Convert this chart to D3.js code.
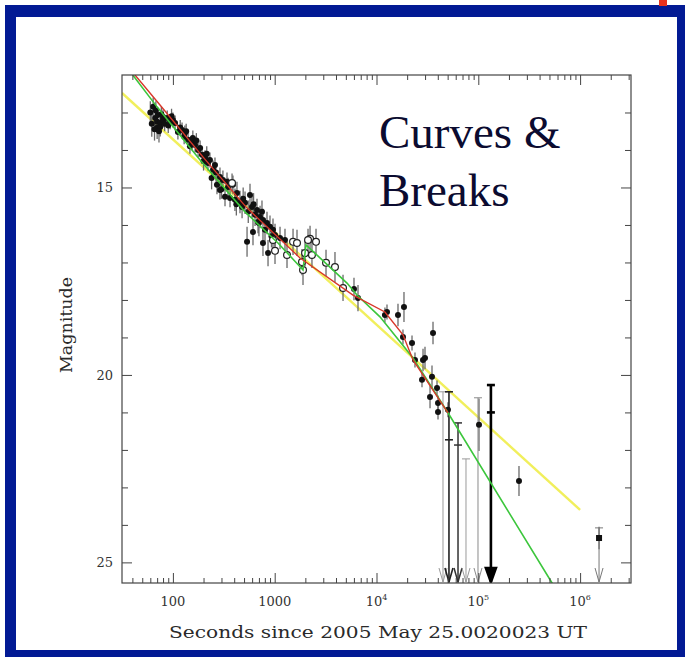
<!DOCTYPE html>
<html>
<head>
<meta charset="utf-8">
<script src="https://cdn.jsdelivr.net/npm/d3@7"></script>
<style>
  html, body { margin: 0; padding: 0; background: #fff; }
  svg { display: block; }
</style>
</head>
<body>
<svg id="chart" width="688" height="657"></svg>
<script>
// afterglow detections: [seconds, magnitude, error]
const detections = [
  [64,12.85,0.25],[67,13.15,0.3],[70,13.25,0.25],[71,13.07,0.2],[75,13.28,0.25],[70,13.41,0.3],
  [80,13.12,0.2],[80,13.2,0.2],[88,13.15,0.2],[94,13.25,0.2],[100,13.2,0.2],[105,13.28,0.2],
  [75,13.39,0.25],[112,13.52,0.2],[123,13.47,0.2],[129,13.65,0.2],[141,13.73,0.2],[154,13.81,0.2],
  [165,13.87,0.2],[177,14.0,0.2],[193,14.13,0.2],[207,14.21,0.2],[221,14.35,0.2],[248,14.53,0.25],
  [271,14.93,0.25],[290,14.72,0.25],[310,14.8,0.25],[340,14.85,0.25],[348,14.99,0.25],[389,14.93,0.25],
  [325,15.25,0.25],[364,15.28,0.25],[426,15.15,0.3],[456,15.39,0.3],[511,15.41,0.3],[572,15.2,0.3],
  [598,15.52,0.3],[670,15.6,0.3],[718,15.79,0.3],[767,15.87,0.3],[840,15.95,0.3],[899,16.05,0.3],
  [962,16.13,0.3],[535,16.45,0.4],[612,16.19,0.35],[767,16.48,0.35],[860,16.75,0.35],[478,15.52,0.3],
  [750,15.65,0.3],[803,16.13,0.3],[1128,16.35,0.3],[1262,16.4,0.3],[6010,17.71,0.3],[6580,17.95,0.35],
  [12100,18.4,0.2],[12680,18.32,0.2],[16260,18.4,0.3],[18620,18.19,0.4],[18200,18.99,0.2],[22330,19.15,0.2],
  [35900,18.88,0.3],[23880,19.6,0.2],[28640,19.6,0.3],[29950,19.55,0.3],[27990,20.13,0.2],[35090,20.05,0.3],
  [33560,20.59,0.3],[39300,20.35,0.2],[40200,20.75,0.2],[40200,20.99,0.2],[50350,20.93,0.2],[101600,21.33,0.7],
  [251000,22.83,0.4],[131,13.55,0.2],[157,13.68,0.2],[185,13.95,0.2],[231,14.27,0.2],[259,14.4,0.2],
  [290,15.07,0.25],[407,15.33,0.3],[641,15.73,0.3],[686,15.92,0.3],[1007,16.27,0.3],
  [60,13.0,0.3],[62,13.3,0.35],[66,13.45,0.3],[68,12.95,0.25],[73,13.5,0.3],[77,13.05,0.2],
  [83,13.3,0.2],[90,13.35,0.2],[97,13.1,0.2],[118,13.4,0.2],[135,13.5,0.2],[147,13.9,0.2],
  [170,13.75,0.2],[200,14.3,0.25],[215,14.1,0.2],[240,14.75,0.3],[265,14.6,0.25],[300,15.05,0.25],
  [420,15.45,0.3],[490,15.3,0.3],[550,15.65,0.3],[620,15.45,0.3],[700,15.95,0.35],[930,16.3,0.3]
];
// other-filter points drawn as open circles
const openPoints = [
  [381,14.88,0.25],[962,16.4,0.3],[1007,16.69,0.35],[1321,16.8,0.35],[1514,16.45,0.35],[1656,16.48,0.35],
  [1854,16.99,0.35],[1897,17.2,0.4],[2224,16.37,0.35],[2546,16.45,0.35],[2323,16.8,0.35],[3192,17.01,0.35],
  [3910,17.12,0.4],[4690,17.68,0.35],[1986,16.75,0.35],[2125,16.4,0.3]
];
const lateDetection = [[1535000,24.35,0.3]];
// upper limits: [seconds, top of bar, lower cap or null]
const upperLimits = [
  [45000,20.45,null],[51500,20.45,21.73],[63200,21.28,21.87],[75700,22.24,null],
  [99300,20.61,null],[133000,20.27,21.0],[1535000,24.08,null]
];
// model curves
const yellowT = [31.6, 1e6];
const yellowM = [12.48, 23.6];
const redT = [38.7, 74.7, 198, 535, 1774, 5875, 12100, 18200, 22850, 50350];
const redM = [11.87, 12.8, 14.19, 15.55, 16.88, 17.87, 18.32, 18.93, 19.6, 21.01];
const greenT = [37.1, 69.8, 185, 511, 1077, 1897, 2030, 5130, 6430, 10820, 22850, 50350, 530000, 700000];
const greenM = [11.87, 12.85, 14.27, 15.65, 16.48, 17.2, 16.53, 17.55, 17.87, 18.45, 19.55, 21.01, 25.55, 26.2];
const majorX = [100, 1000, 1e4, 1e5, 1e6];
const majorY = [15, 20, 25];

const svg = d3.select('#chart');

// slide frame
svg.append('rect').attr('x', 5).attr('y', 5).attr('width', 680).attr('height', 652).attr('fill', '#021a94');
svg.append('rect').attr('x', 16).attr('y', 17).attr('width', 661).attr('height', 633).attr('fill', '#fff');
svg.append('rect').attr('x', 659).attr('y', 0).attr('width', 8).attr('height', 6).attr('fill', '#e8321e');

const pLeft = 122, pRight = 631, pTop = 75, pBottom = 583;
const x = d3.scaleLog().domain([10 ** 1.5, 10 ** 6.5]).range([pLeft, pRight]);
const y = d3.scaleLinear().domain([12, 25.55]).range([pTop, pBottom]);

svg.append('clipPath').attr('id', 'plot-clip')
  .append('rect').attr('x', pLeft).attr('y', pTop).attr('width', pRight - pLeft).attr('height', pBottom - pTop);

const plot = svg.append('g').attr('clip-path', 'url(#plot-clip)');

const line = d3.line().x(d => x(d[0])).y(d => y(d[1]));
const zip = (ts, ms) => ts.map((t, i) => [t, ms[i]]);

// yellow single power law sits under the data
plot.append('path').attr('d', line(zip(yellowT, yellowM)))
  .attr('fill', 'none').attr('stroke', '#f1ef5c').attr('stroke-width', 2.4);

// error bars
const allBars = detections.concat(openPoints, lateDetection);
plot.selectAll('line.err').data(allBars).join('line')
  .attr('class', 'err')
  .attr('x1', d => x(d[0])).attr('x2', d => x(d[0]))
  .attr('y1', d => y(d[1] - d[2])).attr('y2', d => y(d[1] + d[2]))
  .attr('stroke', '#6a6a6a').attr('stroke-width', 1.3);

// upper limits
const limitStroke = ['#9a9a9a', '#222', '#333', '#9a9a9a', '#8a8a8a', '#000', '#777'];
const limitWidth = [1, 1.6, 1.5, 1, 1, 2.6, 1];
upperLimits.forEach((d, i) => {
  const cx = x(d[0]);
  const g = plot.append('g').attr('stroke', limitStroke[i]).attr('stroke-width', limitWidth[i]).attr('fill', 'none');
  g.append('line').attr('x1', cx).attr('x2', cx).attr('y1', y(d[1])).attr('y2', pBottom - 1);
  g.append('line').attr('x1', cx - 4).attr('x2', cx + 4).attr('y1', y(d[1])).attr('y2', y(d[1]));
  if (d[2] != null) {
    g.append('line').attr('x1', cx - 4).attr('x2', cx + 4).attr('y1', y(d[2])).attr('y2', y(d[2]));
  }
  const head = g.append('path').attr('d', `M${cx - 4},${pBottom - 15}L${cx},${pBottom - 1}L${cx + 4},${pBottom - 15}`);
  if (limitWidth[i] > 2) head.attr('fill', limitStroke[i]).attr('d', `M${cx - 5},${pBottom - 15}L${cx},${pBottom - 1}L${cx + 5},${pBottom - 15}Z`);
});

// points
plot.selectAll('circle.det').data(detections).join('circle')
  .attr('class', 'det')
  .attr('cx', d => x(d[0])).attr('cy', d => y(d[1])).attr('r', 3)
  .attr('fill', '#111');
plot.selectAll('circle.open').data(openPoints).join('circle')
  .attr('class', 'open')
  .attr('cx', d => x(d[0])).attr('cy', d => y(d[1])).attr('r', 3.4)
  .attr('fill', '#fff').attr('stroke', '#222').attr('stroke-width', 1.2);
plot.selectAll('rect.late').data(lateDetection).join('rect')
  .attr('class', 'late')
  .attr('x', d => x(d[0]) - 3).attr('y', d => y(d[1]) - 3).attr('width', 6).attr('height', 6)
  .attr('fill', '#111');

// broken power-law fits
plot.append('path').attr('d', line(zip(greenT, greenM)))
  .attr('fill', 'none').attr('stroke', '#3cc63c').attr('stroke-width', 1.6);
plot.append('path').attr('d', line(zip(redT, redM)))
  .attr('fill', 'none').attr('stroke', '#d8372a').attr('stroke-width', 1.4);

// axes, ticks pointing inward
const axisColor = '#444';
const minorX = x.ticks().filter(t => !majorX.includes(t));
const minorY = d3.range(13, 26).filter(m => !majorY.includes(m));
function strip(g) {
  g.select('.domain').remove();
  g.selectAll('.tick line').attr('stroke', axisColor);
}
svg.append('g').attr('transform', `translate(0,${pBottom})`)
  .call(d3.axisBottom(x).tickValues(minorX).tickSize(-5).tickFormat('')).call(strip);
svg.append('g').attr('transform', `translate(0,${pBottom})`)
  .call(d3.axisBottom(x).tickValues(majorX).tickSize(-10).tickFormat('')).call(strip);
svg.append('g').attr('transform', `translate(0,${pTop})`)
  .call(d3.axisTop(x).tickValues(minorX).tickSize(-5).tickFormat('')).call(strip);
svg.append('g').attr('transform', `translate(0,${pTop})`)
  .call(d3.axisTop(x).tickValues(majorX).tickSize(-10).tickFormat('')).call(strip);
svg.append('g').attr('transform', `translate(${pLeft},0)`)
  .call(d3.axisLeft(y).tickValues(minorY).tickSize(-6).tickFormat('')).call(strip);
svg.append('g').attr('transform', `translate(${pLeft},0)`)
  .call(d3.axisLeft(y).tickValues(majorY).tickSize(-10).tickPadding(9).tickFormat(d3.format('d')))
  .call(strip)
  .call(g => g.selectAll('text').attr('font-family', 'DejaVu Serif').attr('font-size', 13).attr('fill', '#333'));
svg.append('g').attr('transform', `translate(${pRight},0)`)
  .call(d3.axisRight(y).tickValues(minorY).tickSize(-6).tickFormat('')).call(strip);
svg.append('g').attr('transform', `translate(${pRight},0)`)
  .call(d3.axisRight(y).tickValues(majorY).tickSize(-10).tickFormat('')).call(strip);

svg.append('rect').attr('x', pLeft).attr('y', pTop).attr('width', pRight - pLeft).attr('height', pBottom - pTop)
  .attr('fill', 'none').attr('stroke', axisColor).attr('stroke-width', 1.2);

// x tick labels: plain for 100/1000, powers of ten beyond
const xl = svg.append('g').attr('font-family', 'DejaVu Serif').attr('fill', '#333').attr('text-anchor', 'middle');
majorX.forEach(t => {
  const p = Math.round(Math.log10(t));
  const txt = xl.append('text').attr('x', x(t)).attr('y', 606).attr('font-size', 13);
  if (p < 4) {
    txt.text(String(t));
  } else {
    txt.append('tspan').text('10');
    txt.append('tspan').attr('font-size', 8).attr('dy', -6).text(String(p));
  }
});

svg.append('text').attr('x', 378).attr('y', 638).attr('text-anchor', 'middle')
  .attr('font-family', 'DejaVu Serif').attr('font-size', 17).attr('fill', '#2a2a2a')
  .attr('textLength', 418).attr('lengthAdjust', 'spacingAndGlyphs')
  .text('Seconds since 2005 May 25.0020023 UT');

svg.append('text').attr('transform', 'translate(72,325) rotate(-90)').attr('text-anchor', 'middle')
  .attr('font-family', 'DejaVu Serif').attr('font-size', 16).attr('fill', '#2a2a2a')
  .attr('textLength', 96).attr('lengthAdjust', 'spacingAndGlyphs')
  .text('Magnitude');

// slide title
const title = svg.append('g').attr('font-family', 'Liberation Serif').attr('font-size', 47).attr('fill', '#0b0b30');
title.append('text').attr('x', 379).attr('y', 148).text('Curves &');
title.append('text').attr('x', 379).attr('y', 206).text('Breaks');
</script>
</body>
</html>
